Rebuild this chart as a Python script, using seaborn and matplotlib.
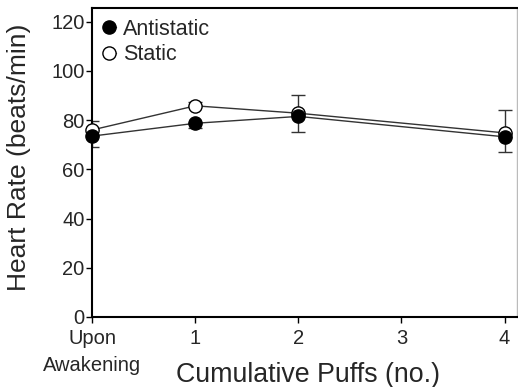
import matplotlib
matplotlib.use("Agg")
import matplotlib.pyplot as plt
import seaborn as sns
import pandas as pd

x_pos = [0, 1, 2, 4]
tick_pos = [0, 1, 2, 3, 4]
tick_labels = ["Upon\nAwakening", "1", "2", "3", "4"]
antistatic = [73.5, 78.7, 81.5, 73.2]
static = [76.0, 85.8, 82.8, 74.8]
static_err_up = [3.5, 1.5, 7.2, 9.2]
antistatic_err_down = [4.5, 2.0, 6.5, 6.3]

sns.set_style("ticks")
plt.rcParams["font.family"] = ["Liberation Sans", "DejaVu Sans"]

df = pd.DataFrame({
    "x": x_pos * 2,
    "hr": antistatic + static,
    "group": ["Antistatic"] * 4 + ["Static"] * 4,
})

fig = plt.figure(figsize=(5.18, 3.87), dpi=100)
ax = fig.add_axes([0.178, 0.181, 0.82, 0.798])

ax.errorbar(x_pos, static, yerr=[[0] * 4, static_err_up], fmt="none",
            ecolor="#333333", elinewidth=1, capsize=5, capthick=1, zorder=2)
ax.errorbar(x_pos, antistatic, yerr=[antistatic_err_down, [0] * 4], fmt="none",
            ecolor="#333333", elinewidth=1, capsize=5, capthick=1, zorder=2)

sns.lineplot(data=df[df.group == "Static"], x="x", y="hr", ax=ax, color="#333333",
             lw=1, marker="o", markersize=9.5, markerfacecolor="white",
             markeredgecolor="black", markeredgewidth=1, label="Static",
             clip_on=False, zorder=3)
sns.lineplot(data=df[df.group == "Antistatic"], x="x", y="hr", ax=ax, color="#333333",
             lw=1, marker="o", markersize=9.5, markerfacecolor="black",
             markeredgecolor="black", markeredgewidth=1, label="Antistatic",
             clip_on=False, zorder=4)

ax.set_xlim(0, 4.12)
ax.set_ylim(0, 125.5)
ax.set_xticks(tick_pos)
ax.set_xticklabels(tick_labels, linespacing=1.55)
ax.set_yticks([0, 20, 40, 60, 80, 100, 120])
ax.tick_params(axis="both", labelsize=14.5, length=4, width=1, color="black")
ax.tick_params(axis="x", pad=4.5)
ax.tick_params(axis="y", pad=1.5)
ax.set_xlabel("Cumulative Puffs (no.)", fontsize=19.3)
ax.set_ylabel("Heart Rate (beats/min)", fontsize=19)
ax.xaxis.set_label_coords(0.507, -0.145)
ax.yaxis.set_label_coords(-0.145, 0.518)

for s in ["left", "bottom", "top"]:
    ax.spines[s].set_linewidth(1.5)
    ax.spines[s].set_color("black")
ax.spines["right"].set_color("#bbbbbb")
ax.spines["right"].set_linewidth(1)

h, l = ax.get_legend_handles_labels()
order = [l.index("Antistatic"), l.index("Static")]
ax.legend([h[i] for i in order], [l[i] for i in order], loc="upper left",
          frameon=False, fontsize=15.5, handlelength=0.6, handletextpad=0.32,
          borderaxespad=0.2, labelspacing=0.2, borderpad=0.3)

fig.savefig("out.png", dpi=100)
